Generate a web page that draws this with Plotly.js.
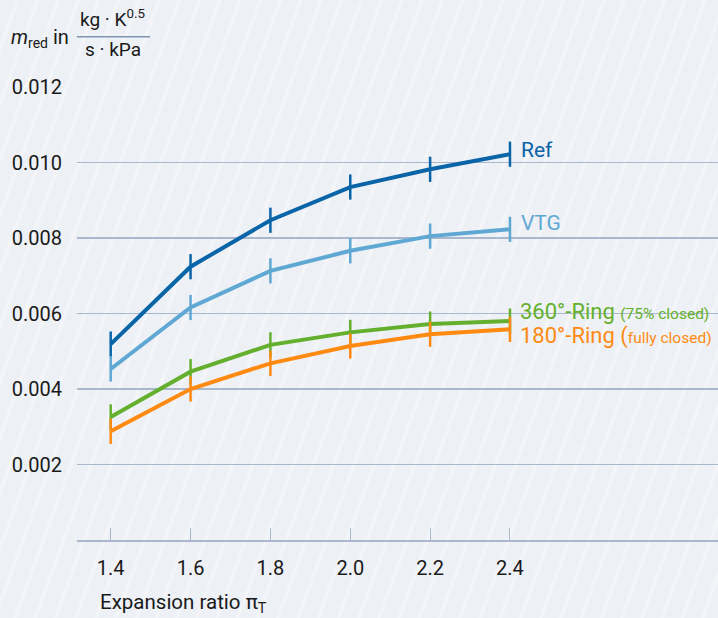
<!DOCTYPE html>
<html>
<head>
<meta charset="utf-8">
<script src="https://cdn.plot.ly/plotly-3.0.1.min.js"></script>
<style>
html,body{margin:0;padding:0;}
body{width:718px;height:618px;overflow:hidden;
background-color:#edf0f5;
background-image:repeating-linear-gradient(110deg, #edf0f5 0px, #edf0f5 14px, #f3f5f8 15.5px, #f3f5f8 17.5px, #edf0f5 19px);}
#chart{width:718px;height:618px;}
</style>
</head>
<body>
<div id="chart"></div>
<script>
const expansionRatio = [1.4, 1.6, 1.8, 2.0, 2.2, 2.4];
const refValues   = [0.00519, 0.00724, 0.00847, 0.00935, 0.00982, 0.01022];
const vtgValues   = [0.00453, 0.00616, 0.00713, 0.00766, 0.00805, 0.00823];
const ring360Values = [0.00326, 0.00446, 0.00517, 0.00550, 0.00572, 0.00580];
const ring180Values = [0.00288, 0.00400, 0.00468, 0.00514, 0.00545, 0.00558];
const xTickLabels = ["1.4", "1.6", "1.8", "2.0", "2.2", "2.4"];
const yTickVals = [0.002, 0.004, 0.006, 0.008, 0.010, 0.012];
const yTickLabels = ["0.002", "0.004", "0.006", "0.008", "0.010", "0.012"];

const FONT = "Roboto, 'Open Sans', sans-serif";
const TXT = "#1a1a1a";
const series = [
  {name: "Ref", y: refValues, color: "#0a64a8"},
  {name: "VTG", y: vtgValues, color: "#5fa8d3"},
  {name: "360°-Ring", y: ring360Values, color: "#64b02e"},
  {name: "180°-Ring", y: ring180Values, color: "#ff8a12"}
];

const traces = series.map(s => ({
  x: expansionRatio, y: s.y, name: s.name, type: "scatter", mode: "lines+markers",
  line: {color: s.color, width: 4},
  marker: {symbol: "line-ns", size: 18, line: {color: s.color, width: 2.5}},
  hoverinfo: "x+y"
}));

const annotations = [
  {x: 2.4, y: refValues[5], xref: "x", yref: "y", xanchor: "left", yanchor: "middle", xshift: 9, yshift: 4,
   text: "Ref", showarrow: false, font: {family: FONT, size: 21, color: "#0a64a8"}},
  {x: 2.4, y: vtgValues[5], xref: "x", yref: "y", xanchor: "left", yanchor: "middle", xshift: 9, yshift: 6,
   text: "VTG", showarrow: false, font: {family: FONT, size: 21, color: "#5fa8d3"}},
  {x: 2.4, y: ring360Values[5], xref: "x", yref: "y", xanchor: "left", yanchor: "middle", xshift: 8, yshift: 10,
   text: "360°-Ring <span style='font-size:15.5px'>(75% closed)</span>", showarrow: false, font: {family: FONT, size: 22, color: "#64b02e"}},
  {x: 2.4, y: ring180Values[5], xref: "x", yref: "y", xanchor: "left", yanchor: "middle", xshift: 8, yshift: -7,
   text: "180°-Ring (<span style='font-size:15.5px'>fully closed)</span>", showarrow: false, font: {family: FONT, size: 22, color: "#ff8a12"}},
  {x: 0.032, y: -0.14, xref: "paper", yref: "paper", xanchor: "left", yanchor: "middle",
   text: "Expansion ratio π<sub>T</sub>", showarrow: false, font: {family: FONT, size: 20.5, color: TXT}},
  {x: -0.106, y: 1.109, xref: "paper", yref: "paper", xanchor: "left", yanchor: "middle",
   text: "<i>m</i><sub>red</sub> in", showarrow: false, font: {family: FONT, size: 20, color: TXT}},
  {x: 0.056, y: 1.152, xref: "paper", yref: "paper", xanchor: "center", yanchor: "middle",
   text: "kg · K<sup>0.5</sup>", showarrow: false, font: {family: FONT, size: 19, color: TXT}},
  {x: 0.056, y: 1.083, xref: "paper", yref: "paper", xanchor: "center", yanchor: "middle",
   text: "s · kPa", showarrow: false, font: {family: FONT, size: 19, color: TXT}}
];

const layout = {
  width: 718, height: 618,
  margin: {l: 77, r: 0, t: 87, b: 78, pad: 0},
  paper_bgcolor: "rgba(0,0,0,0)", plot_bgcolor: "rgba(0,0,0,0)",
  showlegend: false,
  font: {family: FONT, size: 20, color: TXT},
  xaxis: {
    range: [1.3156, 2.921], tickvals: expansionRatio, ticktext: xTickLabels,
    showgrid: false, zeroline: false, showline: true, linecolor: "#a9b8cc", linewidth: 1.5,
    ticks: "inside", ticklen: 12, tickwidth: 1, tickcolor: "#a9b8cc",
    tickfont: {family: FONT, size: 20, color: TXT}, ticklabelstandoff: 9, fixedrange: true
  },
  yaxis: {
    range: [0, 0.012], tickvals: yTickVals, ticktext: yTickLabels,
    showgrid: true, gridcolor: "#a9b8cc", gridwidth: 1.2, zeroline: false, showline: false,
    ticks: "", tickfont: {family: FONT, size: 20, color: TXT}, ticklabelstandoff: 14, fixedrange: true
  },
  shapes: [
    {type: "line", xref: "paper", yref: "paper", x0: 0.0, x1: 0.114, y0: 1.111, y1: 1.111,
     line: {color: "#7f94b0", width: 1.5}}
  ],
  annotations: annotations
};

Plotly.newPlot("chart", traces, layout, {displayModeBar: false, staticPlot: true});
</script>
</body>
</html>
